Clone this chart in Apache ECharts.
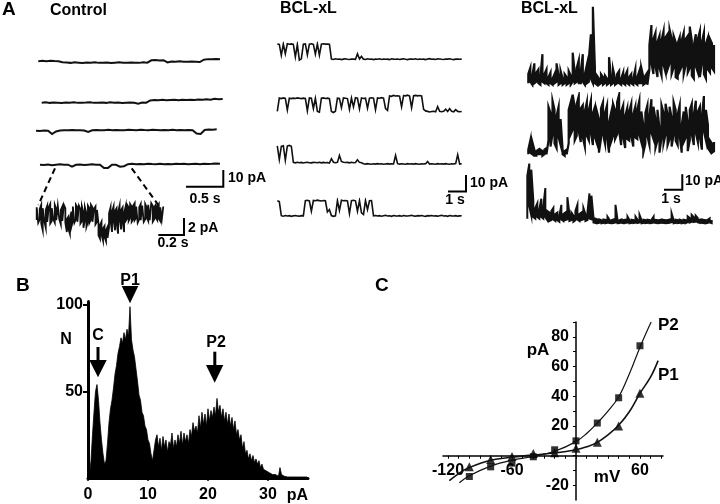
<!DOCTYPE html>
<html><head><meta charset="utf-8">
<script src="https://cdn.jsdelivr.net/npm/echarts@6/dist/echarts.min.js"></script>
<style>html,body{margin:0;padding:0;background:#fff}#c{width:720px;height:504px}</style>
</head><body><div id="c"></div>
<script>
// ---------- Panel A: single-channel traces (pA, uniformly sampled) ----------
const ctrlTrace1 = [0.9,1.1,0.8,1.2,1.0,0.9,0.3,0.1,-0.1,0.2,0,-0.2,0.1,0,0.2,-0.1,0,0.1,-0.2,0,0.2,0,-0.1,0.1,0,-0.1,0.2,0,1.4,1.6,1.3,1.5,0.2,0.7,0.5,0.8,0.6,0.5,0.7,0.6,0.4,1.8,2.1,2.0,2.2,2.0];
const ctrlTrace2 = [0,0.2,-0.1,0.1,0,-0.2,0.1,0,0.2,-0.1,0,0.1,0.3,-0.1,0,0.1,-0.1,0.2,0,0.1,-0.2,0,0.1,0,-0.6,0.1,0,1.3,1.6,1.5,1.7,1.4,1.6,1.8,1.5,1.7,1.6,1.8,1.6,1.9,1.7,2.0,1.8,2.3,2.1,2.2];
const ctrlTrace3 = [0.2,0,0.3,0.1,-1.8,-0.3,0.3,0.5,0.4,0.6,0.4,0.5,0.3,-0.5,0.4,0.6,0.5,0.4,0.7,0.5,0.6,0.4,0.5,0.7,0.6,0.5,0.8,0.6,0.5,0.7,0.6,0.4,0.6,0.5,0.7,0.5,0.6,0.4,0.6,0.5,-1.5,-1.7,0.6,0.9,0.8,1.0];
const ctrlTrace4 = [0.2,0,0.3,-0.1,0.2,0.4,0.1,0.2,-1.0,0.1,0.3,0,0.2,0.4,0.1,0.2,-1.8,-1.7,0.2,0.1,-1.0,-0.7,0.5,0.7,0.4,0.6,0.5,0.8,0.6,0.5,0.7,0.4,0.6,0.5,0.7,0.6,0.8,0.5,0.6,0.7,0.5,0.8,0.6,0.7,0.9,0.8];
// expanded control segment: upper / lower noise envelope per sample
const ctrlZoomHi = [0.9,1.1,0.7,1.2,0.8,1.0,0.6,1.1,0.9,1.3,0.8,1.0,1.2,0.7,1.1,0.9,0.6,1.0,1.2,0.8,-0.5,-0.2,-0.6,0.4,1.0,0.8,1.2,0.9,1.1,0.7,1.0,0.3,0.9,0.2,1.1,0.8,1.2,0.9,0.7,1.0,0.6,-1.0,-1.2,-0.8,-1.6,-1.3,-1.8,-1.4,0.2,0.9,0.4,1.0,0.5,0.8,0.3,1.1,0.6,0.9,0.2,1.0,1.2,0.9,1.3,1.0,1.1,1.4,1.0,1.2,0.9,1.3,1.1,1.0,1.3,0.9,1.2,1.0,1.4,1.1,0.9,1.2,1.0,1.3,0.9,1.1,1.0];
const ctrlZoomLo = [-0.6,-0.9,-0.5,-1.0,-1.8,-0.7,-1.5,-0.8,-0.6,-1.0,-0.7,-0.5,-0.9,-0.6,-0.8,-0.5,-1.1,-0.7,-0.6,-0.9,-2.0,-1.6,-2.2,-1.4,-0.7,-0.9,-0.5,-0.8,-0.6,-1.0,-0.7,-1.5,-0.6,-1.4,-0.8,-0.9,-0.5,-0.8,-0.7,-1.1,-0.8,-2.4,-2.8,-2.3,-3.0,-2.6,-3.1,-2.7,-1.5,-0.7,-2.0,-0.6,-1.8,-0.9,-2.2,-0.5,-1.7,-0.8,-2.0,-0.7,-0.4,-0.7,-0.3,-0.8,-0.5,-0.6,-0.3,-0.9,-0.5,-0.6,-0.4,-0.8,-0.5,-0.3,-0.7,-0.6,-0.4,-0.8,-0.5,-0.3,-0.6,-0.4,-0.7,-0.5,-0.6];
const bclTraceA1 = [9.6,9.3,2.5,9.5,3.5,9.7,9.4,9.6,9.3,1.5,9.2,-0.5,0.3,9.4,9.6,2.8,9.5,9.7,9.3,3.2,9.6,2.5,9.4,9.7,9.5,9.6,9.4,0.2,-0.1,0.3,0,0.2,-0.2,0.1,0.3,0,-0.1,0.2,0.1,0,3.5,0.2,1.8,0.1,-0.1,0.3,0,0.2,-0.2,0.1,0,0.3,-0.1,0.2,0,0.1,-0.2,0.3,0.1,0,0.2,-0.1,0.1,0.3,0,-0.2,0.2,0.1,0,0.3,-0.1,0.2,0,0.1,-0.2,0.2,0.4,0,0.1,-0.1,0.3,0.2,0,-0.1,0.2,0.1,0.3,0,-0.2,0.1,0.2,0,0.1];
const bclTraceA2 = [0.2,8.5,8.2,8.6,8.3,1.0,8.4,8.2,8.5,8.3,8.6,8.4,8.2,8.5,8.3,0.5,8.6,8.4,2.0,8.3,0.2,-0.3,8.4,8.6,8.3,8.5,8.2,0.1,-0.5,0.3,8.5,8.3,2.5,8.6,8.4,8.2,1.5,8.5,3.0,8.7,8.4,1.8,8.6,8.3,8.5,2.2,8.4,8.7,8.5,1.2,8.6,8.4,8.8,8.5,2.0,0.8,9.9,9.6,10.2,9.8,10.0,9.7,3.0,10.1,9.9,10.3,9.8,2.5,10.0,10.2,9.9,10.1,9.8,1.5,0.5,0.2,-0.2,0.1,0.3,-0.1,3.2,0.2,0,0.3,1.6,0.1,1.9,0.2,-0.1,1.3,0.2,0,0.1];
const bclTraceA3 = [10.5,2.0,10.2,10.6,1.5,10.4,10.8,10.3,0.2,-0.1,0.3,0,0.2,-0.2,0.1,0.3,0,-0.1,0.2,0.1,0,0.3,-0.1,0.2,0,0.1,-0.2,2.5,0.3,0,0.2,4.5,0.8,0.3,0.1,0.2,-0.1,0.3,0,0.1,1.8,0.2,0,-0.7,-0.9,-0.6,-0.8,-1.0,-0.7,-0.9,-0.6,-0.8,-0.7,-1.0,-0.8,-0.6,-0.9,-0.7,-0.8,4.5,-0.6,-0.9,-0.7,-0.8,-1.0,-0.6,-0.8,-0.7,-0.9,-0.6,-0.8,-1.0,-0.7,-0.8,-0.6,0.8,-0.9,-0.7,-0.8,-1.0,-0.6,-0.8,-0.7,-0.9,-0.6,-0.8,-1.0,-0.7,-0.8,-0.6,5.0,-0.9,-0.7];
const bclTraceA4 = [9.5,9.0,0.2,-0.1,0.3,0,0.2,-0.2,0.1,0.3,0,-0.1,0.2,0.1,9.6,9.8,9.4,3.0,9.7,9.5,9.9,9.6,9.4,9.7,9.5,2.5,4.0,0.3,-0.2,0.1,9.6,3.5,9.8,9.5,9.7,9.4,1.5,9.6,9.8,9.5,3.0,9.6,2.0,1.0,9.7,4.0,9.5,9.6,0.1,0.3,0,0.2,-0.1,0.2,0.4,0,0.1,-0.2,0.3,0.1,0,0.2,-0.1,0.3,0.1,0,0.2,0.4,0,-0.1,0.2,0.1,0.3,0,-0.2,0.2,0.1,0.3,0,0.1,-0.1,0.2,0.4,0,0.1,-0.2,0.3,0.1,0,0.2,-0.1,0.1,0.2];
// right column: upper / lower envelope per sample
const bclTraceB1Hi = [5,9,4,12,6,8,3,18,5,8,3,6,2,5,12,4,7,2,5,3,7,4,19,6,9,14,7,18,5,11,15,31,49,9,4,2,5,3,4,2,16,3,8,2,5,7,2,6,4,7,3,5,2,8,3,7,9,3,4,6,24,37,28,32,26,30,27,33,29,31,34,28,30,26,25,29,27,32,28,30,36,27,24,31,28,33,26,32,25,29,28,25,24];
const bclTraceB1Lo = [-1,0,-2,-1,0,-1,-2,0,-1,-1,-2,-1,-2,-1,0,-2,-1,-2,-1,-2,-1,-2,0,-1,0,-1,-1,0,-2,-1,0,2,-1,-1,-2,-2,-1,-2,-1,-2,-1,-2,-1,-2,-1,-1,-2,-1,-2,-1,-2,-1,-2,-1,-2,-1,-1,-2,-1,-2,8,12,5,10,3,9,4,11,6,8,12,5,9,3,2,7,10,5,11,6,9,4,2,10,6,3,12,5,2,8,6,9,7];
const bclTraceB2Hi = [2,8,7,2,1,2,2,1,2,3,30,26,34,28,24,30,22,2,1,2,28,33,38,30,32,37,29,31,27,33,28,34,26,30,27,22,29,33,26,31,20,26,32,28,33,38,27,31,24,29,27,32,25,30,28,34,27,18,26,31,24,35,30,22,28,16,31,26,32,25,30,23,33,28,25,31,18,27,30,20,28,32,25,34,27,30,24,37,28,18,8,6,7];
const bclTraceB2Lo = [-1,0,-1,-2,-2,-1,-1,-2,-1,-1,8,4,12,6,3,10,5,-1,-2,-1,6,12,15,8,11,14,7,10,4,11,8,13,5,10,6,0,9,12,6,10,0,7,11,9,12,14,5,10,3,9,8,11,4,10,9,12,7,0,6,11,5,13,9,3,8,0,10,6,12,5,9,4,12,8,5,11,0,7,10,1,8,12,5,13,7,10,2,14,8,3,1,0,1];
const bclTraceB3Hi = [30,38,34,14,9,12,8,15,10,22,7,6,7,9,5,6,4,11,5,6,16,5,6,4,7,11,5,6,9,5,6,18.5,17,3,2,1.5,1.5,1,1.5,1.2,3.3,1.2,1,1.5,11,1.2,1,1.5,1,1.3,3.3,1,1.3,1,3.3,1.2,4.4,1,1.3,1,1.3,1,1.2,3.3,1.2,1,1.1,1.4,1.2,1,1.1,1.4,5.4,1,1.3,1,1.4,1,1.3,1.1,3.5,2.5,4.5,3,4,2.5,1.3,1.5,1.2,1,1.3,2.2,1.1];
const bclTraceB3Lo = [2,10,4,3,2,3,2,3,2,3,1,0.5,1,1.5,0.5,1,0,1.5,0.5,1,1.5,0.5,1,0,1,1.5,0.5,1,1.5,0.5,1,2,1.5,-0.5,-0.8,-1,-0.7,-1,-0.8,-1,-0.7,-0.9,-1,-0.8,-0.5,-1,-0.9,-0.7,-1,-0.8,-0.6,-1,-0.8,-0.9,-0.6,-0.8,-0.5,-1,-0.8,-0.9,-0.7,-1,-0.9,-0.6,-0.8,-1,-0.9,-0.7,-0.8,-1,-0.9,-0.7,-0.4,-1,-0.8,-0.9,-0.7,-1,-0.8,-0.9,-0.3,-0.5,0,-0.2,0,-0.4,-0.8,-0.7,-0.9,-1,-0.8,-0.5,-0.9];

// ---------- Panel B: amplitude histogram (N per 0.25 pA bin) ----------
const histStart = 0, histStep = 0.25;
const histCounts = [0,2,10,25,38,50,54,45,32,22,14,8,
 10,20,32,40,45,52,60,65,72,76,81,78,
 84,80,86,82,99,80,74,70,63,56,48,45,
 38,36,30,28,22,20,14,10,16,22,25,18,
 23,16,24,18,22,15,21,19,26,17,22,18,
 25,20,27,19,26,21,25,20,28,24,32,27,
 30,26,36,29,38,31,37,30,40,33,39,35,
 41,36,46,38,42,35,40,33,38,31,37,30,
 35,28,33,25,28,22,25,17,21,14,16,11,
 14,10,13,9,11,8,10,6,8,5,6,4,
 5,3,4,2,3,2,2,1,6,2,1,1,
 0.6,0.6,0.6,0.6,0.6,0.6,0.6,0.6,0.6,0.6,0.6,0.6,0.6,0.6,0.6];
const histXTicks = [0,10,20,30];
const histYTicks = [50,100];

// ---------- Panel C: I-V relation ----------
const ivVoltage = [-100,-80,-60,-40,-20,0,20,40,60];
const ivP2 = [-14,-7.5,-5,-0.7,4,10,22,39,74];
const ivP1 = [-7.5,-2.5,-0.6,1.5,2,5,9,20,42];
const fitP2V = [-109.4,-100,-80,-60,-40,-20,0,10,20,30,40,50,60,66,70.5];
const fitP2I = [-18.2,-13.5,-7,-3,-0.5,3,9.5,15,22,30,39.5,55,73,83,90];
const fitP1V = [-118.8,-110,-100,-80,-60,-40,-20,0,10,20,30,40,50,60,70,77];
const fitP1I = [-16.8,-12,-8,-3,-1,0.5,1.8,4,6,9,14,20.5,29.6,42,53,64];
const ivXLabels = [-120,-60,60];
const ivYLabels = [-20,20,40,60,80];

// ---------- build ----------
const FONT = '"Liberation Sans", Arial, Helvetica, sans-serif';
const INK = '#111';
const traces = [
  {d: ctrlTrace1, left: 38.3, width: 181.7, base: 62.7, scale: 1.7, lw: 2.0},
  {d: ctrlTrace2, left: 41.7, width: 181, base: 102.7, scale: 1.7, lw: 2.0},
  {d: ctrlTrace3, left: 36, width: 180.7, base: 131, scale: 1.7, lw: 2.0},
  {d: ctrlTrace4, left: 40, width: 180, base: 165, scale: 1.7, lw: 2.0},
  {hi: ctrlZoomHi, lo: ctrlZoomLo, left: 36.7, width: 126.6, base: 215, scale: 8.5, lw: 1.8},
  {d: bclTraceA1, left: 277.3, width: 184.4, base: 59.3, scale: 1.6, lw: 1.6},
  {d: bclTraceA2, left: 277.3, width: 184.4, base: 111.7, scale: 1.6, lw: 1.6},
  {d: bclTraceA3, left: 277.3, width: 184.4, base: 162.7, scale: 1.6, lw: 1.6},
  {d: bclTraceA4, left: 277.3, width: 184.4, base: 216, scale: 1.6, lw: 1.6},
  {hi: bclTraceB1Hi, lo: bclTraceB1Lo, left: 528.3, width: 185.7, base: 81.7, scale: 1.53, lw: 2.2},
  {hi: bclTraceB2Hi, lo: bclTraceB2Lo, left: 528.3, width: 185.7, base: 152.7, scale: 1.53, lw: 2.2},
  {hi: bclTraceB3Hi, lo: bclTraceB3Lo, left: 527.3, width: 184.4, base: 221.7, scale: 1.53, lw: 2.0}
];
const grid = [], xAxis = [], yAxis = [], series = [];
const noOB = {outerBoundsMode: 'none', containLabel: false};
traces.forEach((t, k) => {
  let pts, all;
  if (t.d) { pts = t.d.map((v, i) => [i, v]); all = t.d; }
  else {
    pts = [];
    t.hi.forEach((h, i) => {
      if (i % 2 === 0) { pts.push([i, t.lo[i]]); pts.push([i, h]); }
      else { pts.push([i, h]); pts.push([i, t.lo[i]]); }
    });
    all = t.hi.concat(t.lo);
  }
  const n = pts[pts.length - 1][0];
  const ymin = Math.min(...all) - 1, ymax = Math.max(...all) + 1;
  grid.push(Object.assign({left: t.left, width: t.width, top: t.base - ymax * t.scale, height: (ymax - ymin) * t.scale}, noOB));
  xAxis.push({gridIndex: k, type: 'value', min: 0, max: n, show: false});
  yAxis.push({gridIndex: k, type: 'value', min: ymin, max: ymax, show: false});
  series.push({type: 'line', xAxisIndex: k, yAxisIndex: k, data: pts, symbol: 'none', silent: true,
    lineStyle: {color: INK, width: t.lw, join: 'miter'}});
});

const labelStyle = {color: '#000', fontFamily: FONT, fontWeight: 'bold', fontSize: 16};
// Panel B: plotting grid carries the x axis, a twin grid carries the y axis
const bBox = {left: 88, top: 301.5, width: 220, height: 176.5};
const bX = {min: 0, max: 36.67}, bY = {min: 0, max: 102};
const gB = grid.length;
grid.push(Object.assign({}, bBox, noOB));
xAxis.push({gridIndex: gB, type: 'value', min: bX.min, max: bX.max, position: 'bottom',
  axisLine: {show: true, onZero: false, lineStyle: {color: '#000', width: 3}},
  axisTick: {show: true, customValues: histXTicks, length: 3, lineStyle: {color: '#000', width: 1.5}},
  axisLabel: Object.assign({customValues: histXTicks, margin: 9}, labelStyle),
  splitLine: {show: false}});
yAxis.push({gridIndex: gB, type: 'value', min: bY.min, max: bY.max, show: false});
series.push({type: 'line', xAxisIndex: gB, yAxisIndex: gB, symbol: 'none', silent: true,
  data: histCounts.map((v, i) => [histStart + i * histStep, v]),
  lineStyle: {color: '#000', width: 0.8}, areaStyle: {color: '#000', opacity: 1}});
const gBy = grid.length;
grid.push(Object.assign({}, bBox, noOB));
xAxis.push({gridIndex: gBy, type: 'value', min: bX.min, max: bX.max, show: false});
yAxis.push({gridIndex: gBy, type: 'value', min: bY.min, max: bY.max, position: 'left',
  axisLine: {show: true, onZero: false, lineStyle: {color: '#000', width: 3}},
  axisTick: {show: true, customValues: histYTicks, length: 5, lineStyle: {color: '#000', width: 2}},
  axisLabel: Object.assign({customValues: histYTicks, margin: 5}, labelStyle),
  splitLine: {show: false}});

// Panel C: plotting grid + two axis-carrier grids whose edges sit on the zero lines
const cX = {min: -124.7, max: 81.6}, cY = {min: -29.8, max: 90};
const cLeft = 443, cTop = 322, cW = 220, cH = 178;
const zeroX = cLeft + (0 - cX.min) / (cX.max - cX.min) * cW;
const zeroY = cTop + (cY.max - 0) / (cY.max - cY.min) * cH;
const tenTicks = []; for (let v = -120; v <= 80; v += 10) tenTicks.push(v);
const tenTicksY = []; for (let v = -20; v <= 90; v += 10) tenTicksY.push(v);
const gC = grid.length;
grid.push(Object.assign({left: cLeft, top: cTop, width: cW, height: cH}, noOB));
xAxis.push({gridIndex: gC, type: 'value', min: cX.min, max: cX.max, show: false});
yAxis.push({gridIndex: gC, type: 'value', min: cY.min, max: cY.max, show: false});
const gCx = grid.length;
grid.push(Object.assign({left: cLeft, top: cTop, width: cW, height: zeroY - cTop}, noOB));
xAxis.push({gridIndex: gCx, type: 'value', min: cX.min, max: cX.max, position: 'bottom',
  axisLine: {show: true, onZero: false, lineStyle: {color: '#000', width: 1.5}},
  axisTick: {show: true, customValues: tenTicks, length: 3, lineStyle: {color: '#000'}},
  axisLabel: Object.assign({customValues: ivXLabels, margin: 7}, labelStyle),
  splitLine: {show: false}});
yAxis.push({gridIndex: gCx, type: 'value', min: 0, max: cY.max, show: false});
const gCy = grid.length;
grid.push(Object.assign({left: zeroX, top: cTop, width: cLeft + cW - zeroX, height: cH}, noOB));
xAxis.push({gridIndex: gCy, type: 'value', min: 0, max: cX.max, show: false});
yAxis.push({gridIndex: gCy, type: 'value', min: cY.min, max: cY.max, position: 'left',
  axisLine: {show: true, onZero: false, lineStyle: {color: '#000', width: 1.5}},
  axisTick: {show: true, customValues: tenTicksY, length: 3, lineStyle: {color: '#000'}},
  axisLabel: Object.assign({customValues: ivYLabels, margin: 7}, labelStyle),
  splitLine: {show: false}});
const zip = (a, b) => a.map((v, i) => [v, b[i]]);
series.push({type: 'line', xAxisIndex: gC, yAxisIndex: gC, smooth: 0.4, symbol: 'none', silent: true,
  data: zip(fitP2V, fitP2I), lineStyle: {color: INK, width: 1.2}});
series.push({type: 'line', xAxisIndex: gC, yAxisIndex: gC, smooth: 0.4, symbol: 'none', silent: true,
  data: zip(fitP1V, fitP1I), lineStyle: {color: INK, width: 1.6}});
series.push({type: 'scatter', xAxisIndex: gC, yAxisIndex: gC, symbol: 'rect', symbolSize: 7,
  data: zip(ivVoltage, ivP2), itemStyle: {color: '#000'}});
series.push({type: 'scatter', xAxisIndex: gC, yAxisIndex: gC, symbol: 'triangle', symbolSize: 9,
  data: zip(ivVoltage, ivP1), itemStyle: {color: '#000'}});

// annotations
const txt = (text, x, y, size, align, va) => ({type: 'text', silent: true, style: {text, x, y, fill: '#000',
  font: 'bold ' + size + 'px ' + FONT, align: align || 'left', verticalAlign: va || 'middle'}});
const bar = pts => ({type: 'polyline', silent: true, shape: {points: pts}, style: {stroke: '#000', lineWidth: 2, fill: null}});
const tri = pts => ({type: 'polygon', silent: true, shape: {points: pts}, style: {fill: '#000'}});
const rect = (x, y, w, h) => ({type: 'rect', silent: true, shape: {x, y, width: w, height: h}, style: {fill: '#000'}});
const graphic = [
  txt('A', 2, 10, 19), txt('Control', 50, 11, 16), txt('BCL-xL', 280, 9, 16), txt('BCL-xL', 521, 9, 16),
  txt('B', 16, 286, 19), txt('C', 375, 286, 19),
  bar([[186, 186.7], [223.3, 186.7], [223.3, 170]]), txt('10 pA', 228, 178, 14), txt('0.5 s', 205, 199, 14, 'center'),
  bar([[158.3, 235], [184, 235], [184, 218]]), txt('2 pA', 188, 228, 14), txt('0.2 s', 173, 243, 14, 'center'),
  bar([[448, 191.5], [466, 191.5], [466, 175]]), txt('10 pA', 470, 183, 14), txt('1 s', 455, 200, 14, 'center'),
  bar([[664, 189.7], [682.3, 189.7], [682.3, 174.3]]), txt('10 pA', 685, 181, 14), txt('1 s', 671, 199, 14, 'center'),
  {type: 'line', silent: true, shape: {x1: 55, y1: 168.3, x2: 38.3, y2: 205}, style: {stroke: '#000', lineWidth: 2, lineDash: [6, 4]}},
  {type: 'line', silent: true, shape: {x1: 131.7, y1: 168.3, x2: 158.3, y2: 205}, style: {stroke: '#000', lineWidth: 2, lineDash: [6, 4]}},
  txt('N', 66, 340, 16, 'center'), txt('C', 98, 336, 16, 'center'), txt('P1', 130, 281, 16, 'center'),
  txt('P2', 216, 343, 16, 'center'), txt('pA', 297.5, 496, 16, 'center'),
  rect(96.5, 347, 3, 14), tri([[89.3, 360], [106.7, 360], [98, 377.3]]),
  tri([[121.7, 286], [138.3, 286], [130, 303.3]]),
  rect(213.3, 351.7, 3, 14), tri([[206, 365], [223.3, 365], [214.7, 382.7]]),
  txt('pA', 538, 350, 17, 'center'), txt('mV', 607, 477, 17, 'center'),
  txt('P2', 658, 325, 17), txt('P1', 658, 375, 17)
];

const chart = echarts.init(document.getElementById('c'), null, {renderer: 'canvas', width: 720, height: 504});
chart.setOption({animation: false, backgroundColor: '#fff', textStyle: {fontFamily: FONT},
  grid, xAxis, yAxis, series, graphic});
</script></body></html>
